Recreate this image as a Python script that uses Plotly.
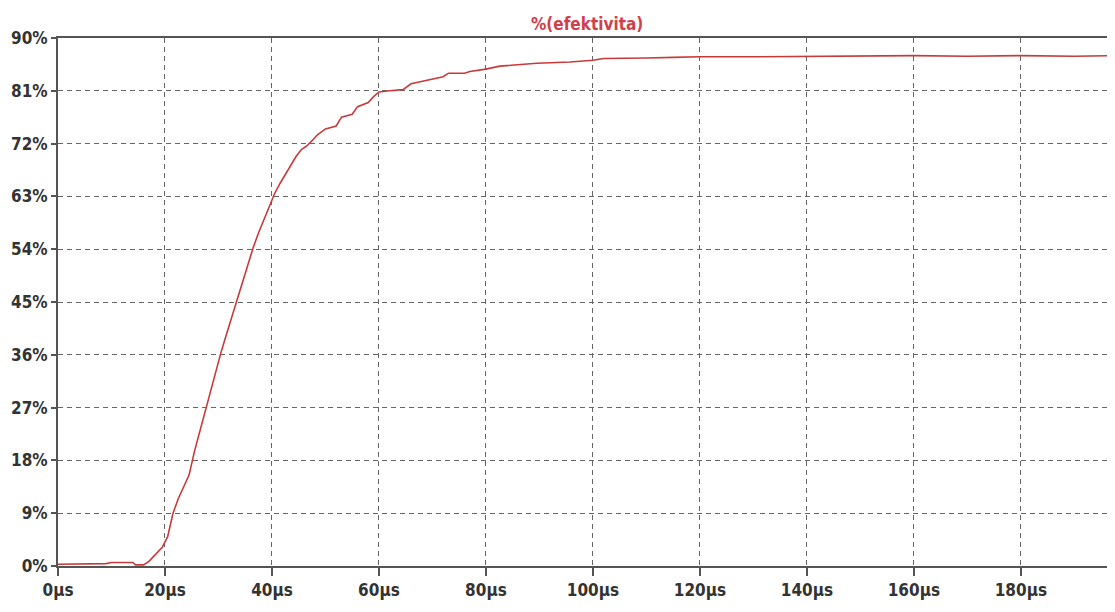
import plotly.graph_objects as go

# time in microseconds
t_us = [0, 5, 9, 10, 14, 14.5, 16, 17, 18, 19.5, 20.5, 21.5, 22.5, 23.5, 24.5, 25.5,
        26.5, 27.5, 28.5, 29.5, 30.5, 31.5, 32.5, 33.5, 34.5, 35.5, 36.5, 37.5, 38.5,
        39.5, 40.5, 41.5, 42.5, 43.5, 44.5, 45.5, 46.5, 47.5, 48.5, 50, 52, 53, 55, 56,
        58, 59, 60, 62, 64.5, 66, 68, 70, 72, 73, 76, 77, 80, 82.6, 86, 89.5, 95.7, 100,
        102, 105, 110, 115, 120, 130, 140, 150, 160, 170, 180, 190, 197.6]
# efficiency in percent
eff_pct = [0.3, 0.3, 0.4, 0.6, 0.6, 0.2, 0.2, 0.8, 1.8, 3.2, 5.0, 9.0, 11.5, 13.5, 15.5,
           19.5, 23, 26, 29.5, 33, 36.5, 39.5, 42.5, 45.5, 48.5, 51.5, 54.3, 56.8, 59,
           61.5, 63.5, 65.2, 66.8, 68.3, 69.8, 71, 71.6, 72.5, 73.5, 74.5, 75, 76.5, 77,
           78.3, 79, 80, 80.8, 81, 81.2, 82.2, 82.6, 83, 83.4, 84, 84, 84.3, 84.7, 85.2,
           85.4, 85.7, 85.9, 86.2, 86.5, 86.5, 86.6, 86.7, 86.8, 86.8, 86.9, 86.9, 87.0,
           86.9, 87.0, 86.9, 87.0]

x_tickvals = [0, 20, 40, 60, 80, 100, 120, 140, 160, 180]
x_ticktext = ["0µs", "20µs", "40µs", "60µs", "80µs", "100µs", "120µs", "140µs", "160µs", "180µs"]
y_tickvals = [0, 9, 18, 27, 36, 45, 54, 63, 72, 81, 90]
y_ticktext = ["0%", "9%", "18%", "27%", "36%", "45%", "54%", "63%", "72%", "81%", "90%"]

title_text = "%(efektivita)"

fig = go.Figure()
fig.add_trace(go.Scatter(
    x=t_us, y=eff_pct, mode="lines",
    line=dict(color="#c83a3a", width=1.6),
    showlegend=False, hoverinfo="skip",
))

FONT = "DejaVu Sans Condensed, Liberation Sans Narrow, Liberation Sans"
tickfont = dict(family=FONT, size=17, color="#333333", weight="bold")

fig.update_layout(
    width=1107, height=604,
    margin=dict(l=50, r=0, t=30, b=46),
    paper_bgcolor="white", plot_bgcolor="white",
    xaxis=dict(
        range=[0, 197.6], tickvals=x_tickvals, ticktext=x_ticktext,
        showline=True, linecolor="#555555", linewidth=2, mirror=True,
        ticks="outside", ticklen=8, tickcolor="#555555", tickwidth=1.5,
        showgrid=True, gridcolor="#666666", gridwidth=1, griddash="5px,4px",
        zeroline=False, tickfont=tickfont,
    ),
    yaxis=dict(
        range=[0, 90], tickvals=y_tickvals, ticktext=y_ticktext,
        showline=True, linecolor="#555555", linewidth=2, mirror=False,
        ticks="outside", ticklen=5, tickcolor="#555555", tickwidth=1.5,
        showgrid=True, gridcolor="#666666", gridwidth=1, griddash="5px,4px",
        zeroline=False, tickfont=tickfont,
    ),
    annotations=[dict(
        text=title_text, xref="paper", yref="paper", x=0.5, y=1.0,
        yanchor="bottom", xanchor="center", yshift=2, showarrow=False,
        font=dict(family=FONT, size=17, color="#d0404a", weight="bold"),
    )],
)

fig.write_html("out.html")
